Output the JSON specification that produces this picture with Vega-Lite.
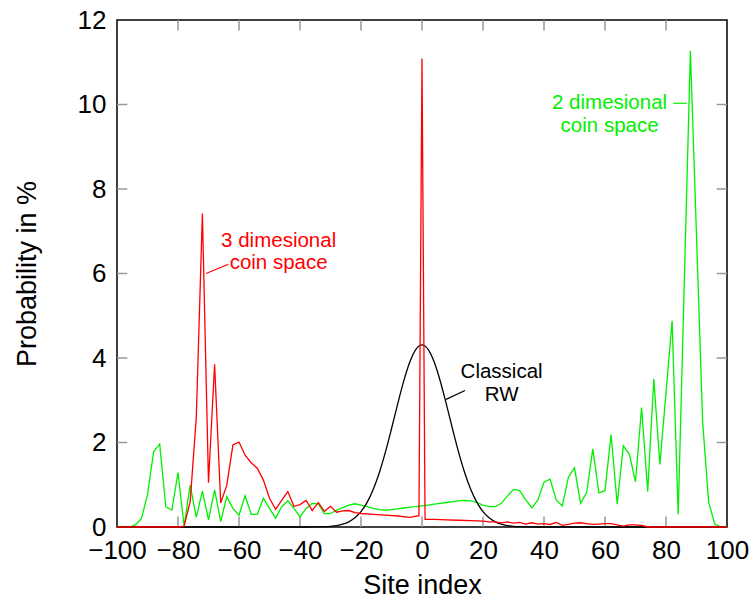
{
  "$schema": "https://vega.github.io/schema/vega-lite/v6.json",
  "width": 610,
  "height": 507,
  "autosize": "none",
  "padding": {"left": 117, "top": 20, "right": 26, "bottom": 75},
  "config": {
    "font": "Liberation Sans",
    "view": {"stroke": "black", "strokeWidth": 1.5},
    "axis": {
      "grid": false,
      "domain": false,
      "ticks": false,
      "labelOverlap": false,
      "labelBound": false,
      "labelFlush": false,
      "labelFont": "Liberation Sans",
      "labelFontSize": 26,
      "labelColor": "black",
      "titleFont": "Liberation Sans",
      "titleFontSize": 27,
      "titleFontWeight": "normal",
      "titleColor": "black"
    }
  },
  "datasets": {
    "xticks": [{"v": -80}, {"v": -60}, {"v": -40}, {"v": -20}, {"v": 0}, {"v": 20}, {"v": 40}, {"v": 60}, {"v": 80}],
    "yticks": [{"v": 2}, {"v": 4}, {"v": 6}, {"v": 8}, {"v": 10}],
    "green": [
      {"x": -100, "p": 0}, {"x": -98, "p": 0}, {"x": -96, "p": 0}, {"x": -94, "p": 0.05},
      {"x": -92, "p": 0.2}, {"x": -90, "p": 0.76}, {"x": -88, "p": 1.78}, {"x": -86, "p": 1.96},
      {"x": -84, "p": 0.48}, {"x": -82, "p": 0.40}, {"x": -80, "p": 1.29}, {"x": -78, "p": 0.03},
      {"x": -76, "p": 0.99}, {"x": -74, "p": 0.23}, {"x": -72, "p": 0.85}, {"x": -70, "p": 0.17},
      {"x": -68, "p": 0.88}, {"x": -66, "p": 0.13}, {"x": -64, "p": 0.72}, {"x": -62, "p": 0.44},
      {"x": -60, "p": 0.28}, {"x": -58, "p": 0.74}, {"x": -56, "p": 0.30}, {"x": -54, "p": 0.30},
      {"x": -52, "p": 0.68}, {"x": -50, "p": 0.44}, {"x": -48, "p": 0.21}, {"x": -46, "p": 0.48},
      {"x": -44, "p": 0.62}, {"x": -42, "p": 0.44}, {"x": -40, "p": 0.24}, {"x": -38, "p": 0.44},
      {"x": -36, "p": 0.56}, {"x": -34, "p": 0.55}, {"x": -32, "p": 0.31}, {"x": -30, "p": 0.32},
      {"x": -28, "p": 0.40}, {"x": -26, "p": 0.46}, {"x": -24, "p": 0.52}, {"x": -22, "p": 0.55},
      {"x": -20, "p": 0.52}, {"x": -18, "p": 0.48}, {"x": -16, "p": 0.44}, {"x": -14, "p": 0.41},
      {"x": -12, "p": 0.40}, {"x": -10, "p": 0.41}, {"x": -8, "p": 0.43}, {"x": -6, "p": 0.45},
      {"x": -4, "p": 0.47}, {"x": -2, "p": 0.48}, {"x": 0, "p": 0.50}, {"x": 2, "p": 0.52},
      {"x": 4, "p": 0.54}, {"x": 6, "p": 0.56}, {"x": 8, "p": 0.58}, {"x": 10, "p": 0.60},
      {"x": 12, "p": 0.62}, {"x": 14, "p": 0.63}, {"x": 16, "p": 0.62}, {"x": 18, "p": 0.58},
      {"x": 20, "p": 0.52}, {"x": 22, "p": 0.48}, {"x": 24, "p": 0.48}, {"x": 26, "p": 0.56},
      {"x": 28, "p": 0.73}, {"x": 30, "p": 0.89}, {"x": 32, "p": 0.86}, {"x": 34, "p": 0.65},
      {"x": 36, "p": 0.45}, {"x": 38, "p": 0.64}, {"x": 40, "p": 1.06}, {"x": 42, "p": 1.13},
      {"x": 44, "p": 0.64}, {"x": 46, "p": 0.50}, {"x": 48, "p": 1.18}, {"x": 50, "p": 1.40},
      {"x": 52, "p": 0.56}, {"x": 54, "p": 0.82}, {"x": 56, "p": 1.85}, {"x": 58, "p": 0.81},
      {"x": 60, "p": 0.86}, {"x": 62, "p": 2.19}, {"x": 64, "p": 0.54}, {"x": 66, "p": 1.92},
      {"x": 68, "p": 1.72}, {"x": 70, "p": 1.07}, {"x": 72, "p": 2.83}, {"x": 74, "p": 0.84},
      {"x": 76, "p": 3.50}, {"x": 78, "p": 1.48}, {"x": 80, "p": 3.18}, {"x": 82, "p": 4.88},
      {"x": 84, "p": 0.30}, {"x": 86, "p": 5.8}, {"x": 88, "p": 11.27}, {"x": 90, "p": 6.9},
      {"x": 92, "p": 2.5}, {"x": 94, "p": 0.58}, {"x": 96, "p": 0.07}, {"x": 98, "p": 0},
      {"x": 100, "p": 0}
    ],
    "black": [
      {"x": -100, "p": 0}, {"x": -40, "p": 0}, {"x": -36, "p": 0.001}, {"x": -34, "p": 0.003},
      {"x": -32, "p": 0.008}, {"x": -30, "p": 0.017}, {"x": -28, "p": 0.034}, {"x": -26, "p": 0.066},
      {"x": -24, "p": 0.123}, {"x": -22, "p": 0.217}, {"x": -20, "p": 0.365}, {"x": -18, "p": 0.583},
      {"x": -16, "p": 0.888}, {"x": -14, "p": 1.285}, {"x": -12, "p": 1.772}, {"x": -10, "p": 2.325},
      {"x": -8, "p": 2.903}, {"x": -6, "p": 3.451}, {"x": -4, "p": 3.905}, {"x": -2, "p": 4.205},
      {"x": 0, "p": 4.31},
      {"x": 2, "p": 4.205}, {"x": 4, "p": 3.905}, {"x": 6, "p": 3.451}, {"x": 8, "p": 2.903},
      {"x": 10, "p": 2.325}, {"x": 12, "p": 1.772}, {"x": 14, "p": 1.285}, {"x": 16, "p": 0.888},
      {"x": 18, "p": 0.583}, {"x": 20, "p": 0.365}, {"x": 22, "p": 0.217}, {"x": 24, "p": 0.123},
      {"x": 26, "p": 0.066}, {"x": 28, "p": 0.034}, {"x": 30, "p": 0.017}, {"x": 32, "p": 0.008},
      {"x": 34, "p": 0.003}, {"x": 36, "p": 0.001}, {"x": 40, "p": 0}, {"x": 100, "p": 0}
    ],
    "red": [
      {"x": -100, "p": 0}, {"x": -80, "p": 0}, {"x": -78, "p": 0.02}, {"x": -76, "p": 0.6},
      {"x": -74, "p": 2.6}, {"x": -72, "p": 7.42}, {"x": -70, "p": 1.05}, {"x": -68, "p": 3.85},
      {"x": -66, "p": 0.57}, {"x": -64, "p": 0.99}, {"x": -62, "p": 1.94}, {"x": -60, "p": 2.01},
      {"x": -58, "p": 1.7}, {"x": -56, "p": 1.52}, {"x": -54, "p": 1.39}, {"x": -52, "p": 1.11},
      {"x": -50, "p": 0.68}, {"x": -48, "p": 0.42}, {"x": -46, "p": 0.63}, {"x": -44, "p": 0.84},
      {"x": -42, "p": 0.49}, {"x": -40, "p": 0.53}, {"x": -38, "p": 0.63}, {"x": -36, "p": 0.39},
      {"x": -34, "p": 0.58}, {"x": -32, "p": 0.37}, {"x": -30, "p": 0.49}, {"x": -28, "p": 0.35},
      {"x": -26, "p": 0.38}, {"x": -24, "p": 0.39}, {"x": -22, "p": 0.34}, {"x": -20, "p": 0.32},
      {"x": -16, "p": 0.30}, {"x": -12, "p": 0.28}, {"x": -8, "p": 0.26}, {"x": -4, "p": 0.23},
      {"x": -1, "p": 0.27}, {"x": 0, "p": 11.09}, {"x": 1, "p": 0.18}, {"x": 4, "p": 0.18},
      {"x": 8, "p": 0.17}, {"x": 12, "p": 0.16}, {"x": 16, "p": 0.15}, {"x": 20, "p": 0.14},
      {"x": 22, "p": 0.12}, {"x": 24, "p": 0.12}, {"x": 26, "p": 0.10}, {"x": 28, "p": 0.12},
      {"x": 30, "p": 0.09}, {"x": 32, "p": 0.11}, {"x": 34, "p": 0.07}, {"x": 36, "p": 0.10},
      {"x": 38, "p": 0.07}, {"x": 40, "p": 0.08}, {"x": 42, "p": 0.06}, {"x": 44, "p": 0.11},
      {"x": 46, "p": 0.04}, {"x": 48, "p": 0.06}, {"x": 50, "p": 0.09}, {"x": 52, "p": 0.10},
      {"x": 54, "p": 0.08}, {"x": 56, "p": 0.06}, {"x": 58, "p": 0.07}, {"x": 60, "p": 0.08},
      {"x": 62, "p": 0.08}, {"x": 64, "p": 0.05}, {"x": 66, "p": 0.02}, {"x": 68, "p": 0.05},
      {"x": 70, "p": 0.05}, {"x": 72, "p": 0.04}, {"x": 74, "p": 0}, {"x": 100, "p": 0}
    ],
    "notes": [
      {"series": "3D", "label": "3 dimesional\ncoin space", "tx": -47.0, "ty": 6.78, "lx1": -70.8, "ly1": 6.0, "lx2": -63.5, "ly2": 6.22},
      {"series": "2D", "label": "2 dimesional\ncoin space", "tx": 61.5, "ty": 10.03, "lx1": 82.4, "ly1": 10.03, "lx2": 86.8, "ly2": 10.03},
      {"series": "Classical", "label": "Classical\nRW", "tx": 26.1, "ty": 3.66, "lx1": 7.87, "ly1": 3.02, "lx2": 14.1, "ly2": 3.23}
    ]
  },
  "layer": [
    {
      "data": {"name": "xticks"},
      "mark": {"type": "rule", "color": "#999999", "strokeWidth": 1.5},
      "encoding": {
        "x": {"field": "v", "type": "quantitative", "scale": {"domain": [-100, 100], "nice": false, "zero": false}, "axis": null},
        "y": {"datum": 0, "type": "quantitative", "scale": {"domain": [0, 12], "nice": false, "zero": false}, "axis": null},
        "y2": {"datum": 0.25}
      }
    },
    {
      "data": {"name": "xticks"},
      "mark": {"type": "rule", "color": "#999999", "strokeWidth": 1.5},
      "encoding": {
        "x": {"field": "v", "type": "quantitative", "scale": {"domain": [-100, 100], "nice": false, "zero": false}, "axis": null},
        "y": {"datum": 12, "type": "quantitative", "scale": {"domain": [0, 12], "nice": false, "zero": false}, "axis": null},
        "y2": {"datum": 11.75}
      }
    },
    {
      "data": {"name": "yticks"},
      "mark": {"type": "rule", "color": "#999999", "strokeWidth": 1.5},
      "encoding": {
        "y": {"field": "v", "type": "quantitative", "scale": {"domain": [0, 12], "nice": false, "zero": false}, "axis": null},
        "x": {"datum": -100, "type": "quantitative", "scale": {"domain": [-100, 100], "nice": false, "zero": false}, "axis": null},
        "x2": {"datum": -96.6}
      }
    },
    {
      "data": {"name": "yticks"},
      "mark": {"type": "rule", "color": "#999999", "strokeWidth": 1.5},
      "encoding": {
        "y": {"field": "v", "type": "quantitative", "scale": {"domain": [0, 12], "nice": false, "zero": false}, "axis": null},
        "x": {"datum": 100, "type": "quantitative", "scale": {"domain": [-100, 100], "nice": false, "zero": false}, "axis": null},
        "x2": {"datum": 96.6}
      }
    },
    {
      "data": {"name": "green"},
      "mark": {"type": "line", "color": "#00f000", "strokeWidth": 1.3},
      "encoding": {
        "x": {"field": "x", "type": "quantitative", "scale": {"domain": [-100, 100], "nice": false, "zero": false},
              "axis": {"orient": "bottom", "values": [-100, -80, -60, -40, -20, 0, 20, 40, 60, 80, 100], "offset": -10, "labelPadding": 20, "title": "Site index", "titleY": 68, "titleBaseline": "middle"}},
        "y": {"field": "p", "type": "quantitative", "scale": {"domain": [0, 12], "nice": false, "zero": false},
              "axis": {"orient": "left", "values": [0, 2, 4, 6, 8, 10, 12], "offset": -10, "labelPadding": 21, "title": "Probability in %", "titleX": -100, "titleY": 253.5, "titleBaseline": "middle", "titleAlign": "center"}}
      }
    },
    {
      "data": {"name": "black"},
      "mark": {"type": "line", "color": "black", "strokeWidth": 1.3, "interpolate": "monotone"},
      "encoding": {
        "x": {"field": "x", "type": "quantitative", "scale": {"domain": [-100, 100], "nice": false, "zero": false}, "axis": null},
        "y": {"field": "p", "type": "quantitative", "scale": {"domain": [0, 12], "nice": false, "zero": false}, "axis": null}
      }
    },
    {
      "data": {"name": "red"},
      "mark": {"type": "line", "color": "#ff0000", "strokeWidth": 1.3},
      "encoding": {
        "x": {"field": "x", "type": "quantitative", "scale": {"domain": [-100, 100], "nice": false, "zero": false}, "axis": null},
        "y": {"field": "p", "type": "quantitative", "scale": {"domain": [0, 12], "nice": false, "zero": false}, "axis": null}
      }
    },
    {
      "data": {"name": "notes"},
      "mark": {"type": "rule", "strokeWidth": 1.2},
      "encoding": {
        "x": {"field": "lx1", "type": "quantitative", "scale": {"domain": [-100, 100], "nice": false, "zero": false}, "axis": null},
        "y": {"field": "ly1", "type": "quantitative", "scale": {"domain": [0, 12], "nice": false, "zero": false}, "axis": null},
        "x2": {"field": "lx2"},
        "y2": {"field": "ly2"},
        "color": {"field": "series", "type": "nominal", "scale": {"domain": ["2D", "3D", "Classical"], "range": ["#00f000", "#ff0000", "#000000"]}, "legend": null}
      }
    },
    {
      "data": {"name": "notes"},
      "mark": {"type": "text", "fontSize": 20.5, "lineHeight": 22.5, "lineBreak": "\n", "align": "center", "baseline": "middle", "font": "Liberation Sans"},
      "encoding": {
        "x": {"field": "tx", "type": "quantitative", "scale": {"domain": [-100, 100], "nice": false, "zero": false}, "axis": null},
        "y": {"field": "ty", "type": "quantitative", "scale": {"domain": [0, 12], "nice": false, "zero": false}, "axis": null},
        "text": {"field": "label"},
        "color": {"field": "series", "type": "nominal", "scale": {"domain": ["2D", "3D", "Classical"], "range": ["#00f000", "#ff0000", "#000000"]}, "legend": null}
      }
    }
  ],
  "resolve": {"axis": {"x": "independent", "y": "independent"}}
}
